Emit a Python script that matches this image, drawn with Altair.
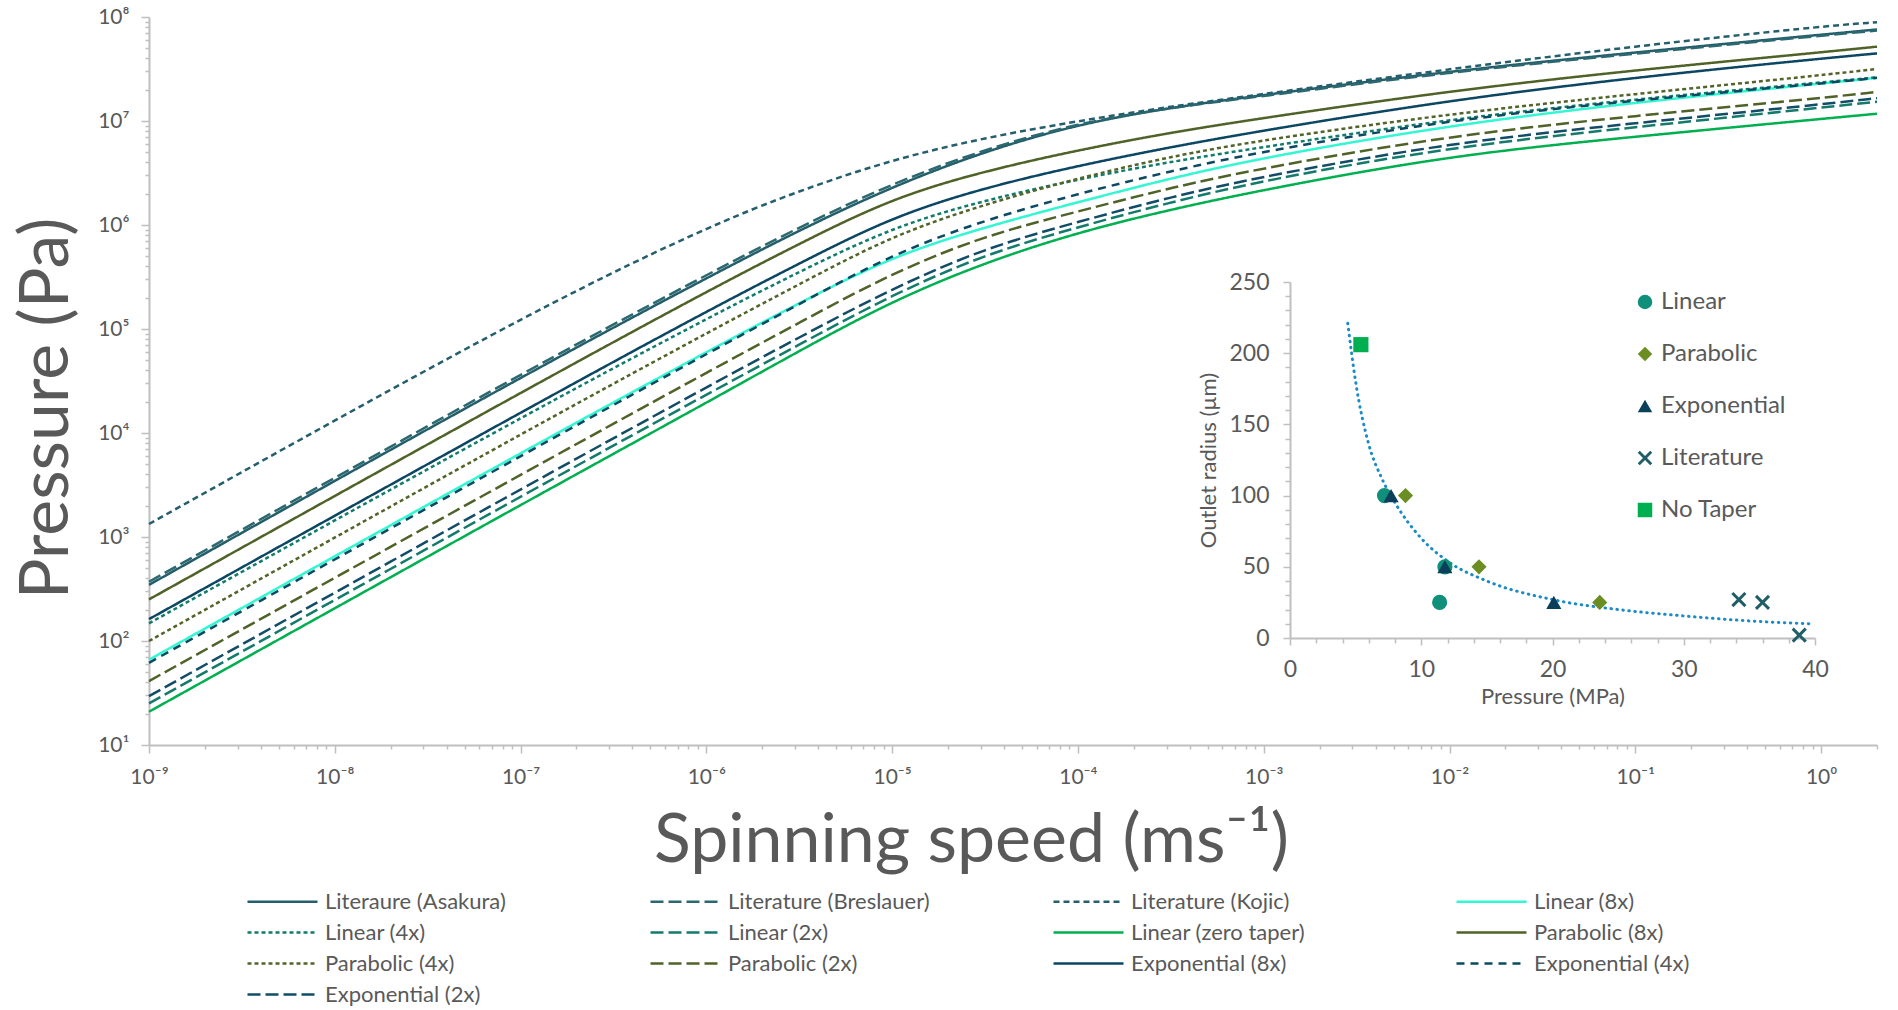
import altair as alt
import pandas as pd

# ---------------- main chart data ----------------
speeds = [1e-9, 1e-7, 1e-6, 3.16e-6, 1e-5, 3.16e-5, 1e-4, 3.16e-4, 1e-3, 1e-2, 1e-1, 1.0, 2.0]

# log10 of pressure (Pa) at each speed above
asakura = [2.54, 4.54, 5.49, 5.95, 6.37, 6.71, 6.97, 7.13, 7.25, 7.48, 7.66, 7.83, 7.88]
breslauer = [2.57, 4.57, 5.52, 5.98, 6.40, 6.73, 6.98, 7.13, 7.24, 7.47, 7.65, 7.82, 7.87]
kojic = [3.125, 5.12, 5.98, 6.33, 6.63, 6.84, 7.00, 7.14, 7.26, 7.50, 7.72, 7.91, 7.95]
linear_8x = [1.82, 3.81, 4.78, 5.25, 5.70, 5.98, 6.22, 6.45, 6.65, 6.96, 7.18, 7.36, 7.415]
linear_4x = [2.17, 4.15, 5.10, 5.55, 5.98, 6.24, 6.44, 6.61, 6.75, 7.02, 7.21, 7.37, 7.42]
linear_2x = [1.40, 3.39, 4.37, 4.85, 5.33, 5.72, 5.98, 6.22, 6.43, 6.75, 6.94, 7.13, 7.185]
linear_zero = [1.32, 3.31, 4.29, 4.79, 5.27, 5.64, 5.93, 6.15, 6.34, 6.67, 6.85, 7.02, 7.07]
parabolic_8x = [2.40, 4.39, 5.36, 5.82, 6.26, 6.52, 6.72, 6.89, 7.03, 7.29, 7.49, 7.66, 7.715]
parabolic_4x = [2.00, 3.99, 4.96, 5.43, 5.90, 6.20, 6.45, 6.66, 6.82, 7.07, 7.26, 7.44, 7.50]
parabolic_2x = [1.615, 3.60, 4.58, 5.06, 5.54, 5.90, 6.13, 6.36, 6.55, 6.86, 7.05, 7.22, 7.28]
exponential_8x = [2.21, 4.20, 5.17, 5.63, 6.08, 6.36, 6.57, 6.75, 6.91, 7.20, 7.42, 7.60, 7.65]
exponential_4x = [1.79, 3.78, 4.76, 5.24, 5.72, 6.05, 6.30, 6.52, 6.71, 7.01, 7.20, 7.36, 7.415]
exponential_2x = [1.47, 3.46, 4.44, 4.92, 5.39, 5.78, 6.03, 6.27, 6.47, 6.79, 6.98, 7.16, 7.22]

series_names = [
    "Literaure (Asakura)", "Literature (Breslauer)", "Literature (Kojic)", "Linear (8x)",
    "Linear (4x)", "Linear (2x)", "Linear (zero taper)", "Parabolic (8x)",
    "Parabolic (4x)", "Parabolic (2x)", "Exponential (8x)", "Exponential (4x)",
    "Exponential (2x)",
]
series_values = [
    asakura, breslauer, kojic, linear_8x, linear_4x, linear_2x, linear_zero,
    parabolic_8x, parabolic_4x, parabolic_2x, exponential_8x, exponential_4x, exponential_2x,
]
series_colors = [
    "#235E6A", "#2B6870", "#245F6B", "#33F7D3",
    "#117C6B", "#137A6C", "#00B050", "#4F6228",
    "#51652A", "#4F6228", "#0B4662", "#0C4A63",
    "#124C66",
]
series_dashes = [
    [1, 0], [13, 5], [6, 4], [1, 0],
    [4, 3], [13, 5], [1, 0], [1, 0],
    [4, 3], [13, 5], [1, 0], [8, 6],
    [13, 5],
]

# ---------------- inset data ----------------
inset_types = ["Linear", "Parabolic", "Exponential", "Literature", "No Taper"]
inset_colors = ["#10907A", "#6B8E23", "#0B3F5A", "#1F5E66", "#00B050"]
x_shape = "M-1,-0.72L-0.72,-1L0,-0.28L0.72,-1L1,-0.72L0.28,0L1,0.72L0.72,1L0,0.28L-0.72,1L-1,0.72L-0.28,0Z"
inset_shapes = ["circle", "diamond", "triangle-up", x_shape, "square"]

linear_p = [7.2, 11.8, 11.4]
linear_r = [100, 50, 25]
parabolic_p = [8.8, 14.4, 23.6]
parabolic_r = [100, 50, 25]
exponential_p = [7.7, 11.8, 20.1]
exponential_r = [100, 50, 25]
literature_p = [34.2, 36.0, 38.8]
literature_r = [27, 25, 2]
notaper_p = [5.4]
notaper_r = [206]

trend_p = [4.4, 5, 6, 7, 8, 10, 12, 15, 20, 25, 30, 35, 39.7]
trend_r = [221, 180, 136, 112, 95, 70, 54, 40, 27, 20, 15.5, 12, 10]

# ---------------- tables ----------------
rows = []
for name, vals in zip(series_names, series_values):
    for s, lp in zip(speeds, vals):
        rows.append({"series": name, "speed": s, "pressure": 10 ** lp})
df_lines = pd.DataFrame(rows)

pts = []
for t, ps, rs in [
    ("Linear", linear_p, linear_r),
    ("Parabolic", parabolic_p, parabolic_r),
    ("Exponential", exponential_p, exponential_r),
    ("Literature", literature_p, literature_r),
    ("No Taper", notaper_p, notaper_r),
]:
    for p, r in zip(ps, rs):
        pts.append({"type": t, "p": p, "r": r})
df_pts = pd.DataFrame(pts)
df_trend = pd.DataFrame({"p": trend_p, "r": trend_r})

# ---------------- axis helpers ----------------
SUP = {"-": "⁻", "0": "⁰", "1": "¹", "2": "²", "3": "³", "4": "⁴",
       "5": "⁵", "6": "⁶", "7": "⁷", "8": "⁸", "9": "⁹"}


def sup(n):
    return "".join(SUP[c] for c in str(n))


def decade_label_expr(exps):
    expr = "''"
    for e in reversed(exps):
        expr = f"(abs(log(datum.value)/LN10 - ({e})) < 0.001) ? '10{sup(e)}' : {expr}"
    return expr


MAJOR_TEST = "abs(log(datum.value)/LN10 - round(log(datum.value)/LN10)) < 0.001"

x_exps = list(range(-9, 1))
x_ticks = [m * 10.0 ** e for e in x_exps for m in range(1, 10) if m * 10.0 ** e <= 2.0001]
y_exps = list(range(1, 9))
y_ticks = [m * 10.0 ** e for e in range(1, 8) for m in range(1, 10)] + [1e8]

FONT = "Lato"
GREY = "#595959"
AXIS_GREY = "#BFBFBF"

x_axis = alt.Axis(
    values=x_ticks,
    labelExpr=decade_label_expr(x_exps),
    tickSize={"condition": {"test": MAJOR_TEST, "value": 8}, "value": 4},
    labelFontSize=21,
    labelPadding=13,
    labelFlush=False,
    labelOverlap=False,
    titleFontSize=68,
    titleX=822,
    titleY=116,
    titleAlign="center",
    titleBaseline="alphabetic",
    title="Spinning speed (ms⁻¹)",
)
y_axis = alt.Axis(
    values=y_ticks,
    labelExpr=decade_label_expr(y_exps),
    tickSize={"condition": {"test": MAJOR_TEST, "value": 8}, "value": 4},
    labelFontSize=21,
    labelPadding=12,
    labelFlush=False,
    labelOverlap=False,
    titleFontSize=68,
    titleX=-82,
    titleY=391,
    titleAngle=270,
    titleAlign="center",
    titleBaseline="alphabetic",
    title="Pressure (Pa)",
)

main_legend = alt.Legend(
    title=None,
    orient="none",
    legendX=122,
    legendY=873,
    direction="horizontal",
    columns=4,
    gridAlign="all",
    columnPadding=118,
    rowPadding=8,
    symbolType="M-3.5,0L3.5,0",
    symbolSize=400,
    symbolStrokeWidth=2.5,
    labelFontSize=22,
    labelLimit=400,
    labelOffset=31,
    padding=0,
)

main = alt.Chart(df_lines).mark_line(strokeWidth=2.5, interpolate="basis").encode(
    x=alt.X("speed:Q", scale=alt.Scale(type="log", domain=[1e-9, 2], nice=False), axis=x_axis),
    y=alt.Y("pressure:Q", scale=alt.Scale(type="log", domain=[10, 1e8], nice=False), axis=y_axis),
    color=alt.Color("series:N", scale=alt.Scale(domain=series_names, range=series_colors), legend=main_legend),
    strokeDash=alt.StrokeDash("series:N", scale=alt.Scale(domain=series_names, range=series_dashes), legend=main_legend),
)

# ---------------- inset ----------------
ix_scale = alt.Scale(domain=[0, 40], range=[1141, 1666], nice=False, zero=False)
iy_scale = alt.Scale(domain=[0, 250], range=[621, 265], nice=False, zero=False)

ix_axis = alt.Axis(
    orient="bottom",
    offset=-107,
    values=list(range(0, 41, 2)),
    labelExpr="datum.value % 10 == 0 ? datum.label : ''",
    tickSize={"condition": {"test": "datum.value % 10 == 0", "value": 7}, "value": 5},
    labelFontSize=23,
    labelPadding=13,
    labelFlush=False,
    labelOverlap=False,
    titleFontSize=22,
    titlePadding=5,
    title="Pressure (MPa)",
    domain=True,
    ticks=True,
    labels=True,
)
iy_axis = alt.Axis(
    orient="left",
    offset=-1141,
    values=list(range(0, 251, 10)),
    labelExpr="datum.value % 50 == 0 ? datum.label : ''",
    tickSize={"condition": {"test": "datum.value % 50 == 0", "value": 7}, "value": 5},
    labelFontSize=23,
    labelPadding=14,
    labelFlush=False,
    labelOverlap=False,
    titleFontSize=22,
    titlePadding=8,
    title="Outlet radius (µm)",
    domain=True,
    ticks=True,
    labels=True,
)

trend = alt.Chart(df_trend).mark_line(
    color="#1A8BC4", strokeWidth=3, strokeDash=[0.5, 5.5], strokeCap="round", interpolate="monotone"
).encode(
    x=alt.X("p:Q", scale=ix_scale, axis=ix_axis),
    y=alt.Y("r:Q", scale=iy_scale, axis=iy_axis),
)

inset_legend = alt.Legend(
    title=None,
    orient="none",
    legendX=1484,
    legendY=273,
    rowPadding=28,
    labelFontSize=24,
    labelOffset=4,
    symbolSize=210,
    labelLimit=300,
    padding=0,
)

points = alt.Chart(df_pts).mark_point(filled=True, opacity=1, size=230).encode(
    x=alt.X("p:Q", scale=ix_scale, axis=None),
    y=alt.Y("r:Q", scale=iy_scale, axis=None),
    color=alt.Color("type:N", scale=alt.Scale(domain=inset_types, range=inset_colors), legend=inset_legend),
    shape=alt.Shape("type:N", scale=alt.Scale(domain=inset_types, range=inset_shapes), legend=inset_legend),
)

chart = (
    alt.layer(main, trend, points)
    .resolve_scale(x="independent", y="independent", color="independent",
                   strokeDash="independent", shape="independent")
    .resolve_axis(x="independent", y="independent")
    .properties(
        width=1728,
        height=728,
        padding={"left": 149, "top": 17, "right": 21, "bottom": 265},
        autosize=alt.AutoSizeParams(type="none"),
    )
    .configure_view(stroke=None)
    .configure_axis(
        grid=False,
        domainColor=AXIS_GREY,
        domainWidth=2,
        tickColor=AXIS_GREY,
        tickWidth=1.5,
        labelColor=GREY,
        titleColor=GREY,
        labelFont=FONT,
        titleFont=FONT,
        titleFontWeight="normal",
    )
    .configure_legend(labelFont=FONT, labelColor=GREY)
)

chart.save("out.html", embed_options={"renderer": "svg", "actions": False})
